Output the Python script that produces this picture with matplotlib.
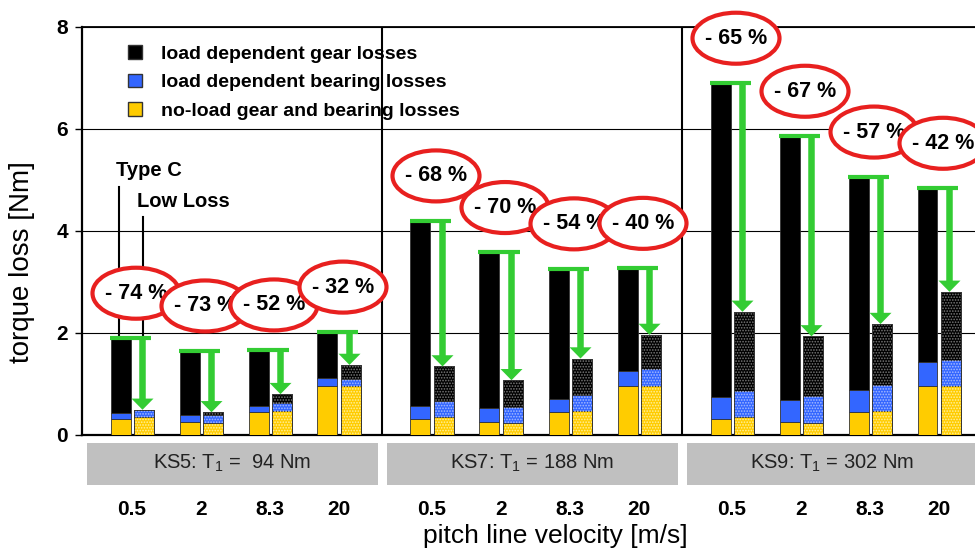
import numpy as np
import matplotlib.pyplot as plt
import matplotlib.transforms as mtransforms
from matplotlib.patches import Ellipse, Rectangle, FancyArrow, Patch

plt.rcParams['font.family'] = ['Liberation Sans', 'DejaVu Sans']
plt.rcParams['mathtext.fontset'] = 'custom'
plt.rcParams['mathtext.rm'] = 'Liberation Sans'
plt.rcParams['hatch.linewidth'] = 0.8

# test rigs (pinion torque) and pitch line velocities
groups = [r'KS5: T$_\mathregular{1}$ =  94 Nm',
          r'KS7: T$_\mathregular{1}$ = 188 Nm',
          r'KS9: T$_\mathregular{1}$ = 302 Nm']
speeds = ['0.5', '2', '8.3', '20']

# reference gears (Type C), torque loss parts in Nm
noload_ref = [0.32, 0.255, 0.45, 0.97,
              0.32, 0.255, 0.45, 0.97,
              0.32, 0.255, 0.45, 0.97]
bearing_ref = [0.105, 0.13, 0.12, 0.15,
               0.25, 0.275, 0.26, 0.28,
               0.43, 0.435, 0.43, 0.47]
gear_ref = [1.475, 1.265, 1.10, 0.90,
            3.63, 3.05, 2.55, 2.02,
            6.15, 5.17, 4.18, 3.40]

# low loss gears
noload_low = [0.35, 0.24, 0.48, 0.96,
              0.35, 0.23, 0.48, 0.96,
              0.35, 0.23, 0.48, 0.96]
bearing_low = [0.14, 0.145, 0.14, 0.13,
               0.32, 0.325, 0.30, 0.33,
               0.52, 0.53, 0.51, 0.51]

# total loss reduction in %
reduction = [74, 73, 52, 32,
             68, 70, 54, 40,
             65, 67, 57, 42]

noload_ref = np.array(noload_ref)
bearing_ref = np.array(bearing_ref)
gear_ref = np.array(gear_ref)
noload_low = np.array(noload_low)
bearing_low = np.array(bearing_low)
total_ref = noload_ref + bearing_ref + gear_ref
total_low = total_ref * (1 - np.array(reduction) / 100)
gear_low = np.clip(total_low - noload_low - bearing_low, 0, None)

c_yellow = '#ffcc00'
c_blue = '#3366ff'
c_black = '#000000'
c_green = '#33cc33'
c_red = '#e8201f'

fig = plt.figure(figsize=(9.75, 5.55), dpi=100)
ax = fig.add_axes([82/975, 120/555, 1 - 82/975, 408/555])

offsets = [0.5, 1.19, 1.88, 2.57]
xc = np.array([g * 3 + o for g in range(3) for o in offsets])
w = 0.2
x_ref = xc - 0.115
x_low = xc + 0.115

edge = dict(edgecolor='#333333', linewidth=0.6, zorder=3)
ax.bar(x_ref, noload_ref, w, color=c_yellow, **edge)
ax.bar(x_ref, bearing_ref, w, bottom=noload_ref, color=c_blue, **edge)
ax.bar(x_ref, gear_ref, w, bottom=noload_ref + bearing_ref, color=c_black, **edge)

ax.bar(x_low, noload_low, w, color=c_yellow, **edge)
ax.bar(x_low, bearing_low, w, bottom=noload_low, color=c_blue, **edge)
ax.bar(x_low, gear_low, w, bottom=noload_low + bearing_low, color=c_black, **edge)
# stippled look of the low loss bars
ax.bar(x_low, noload_low, w, fill=False, hatch='......', edgecolor='#fff0a0', linewidth=0, zorder=4)
ax.bar(x_low, bearing_low, w, bottom=noload_low, fill=False, hatch='......',
       edgecolor='#a8bcff', linewidth=0, zorder=4)
ax.bar(x_low, gear_low, w, bottom=noload_low + bearing_low, fill=False, hatch='......',
       edgecolor='#7a7a7a', linewidth=0, zorder=4)
ax.bar(x_low, total_low, w, fill=False, edgecolor='#333333', linewidth=0.6, zorder=4)

# green arrows: reference total -> low loss total
for i in range(len(xc)):
    ax.plot([xc[i] - 0.225, xc[i] + 0.19], [total_ref[i], total_ref[i]],
            color=c_green, lw=3, solid_capstyle='butt', zorder=5)
    ax.add_patch(FancyArrow(xc[i] + 0.105, total_ref[i] + 0.03, 0,
                            total_low[i] - total_ref[i] - 0.03,
                            width=0.065, head_width=0.22, head_length=0.22,
                            length_includes_head=True, color=c_green, lw=0, zorder=5))

# red ellipses with reduction values
for i in range(len(xc)):
    cx, cy = xc[i] + 0.04, total_ref[i] + 0.88
    ax.add_patch(Ellipse((cx, cy), 0.87, 1.0, facecolor='white', edgecolor=c_red,
                         lw=3, zorder=10 + 2 * i, clip_on=False))
    ax.text(cx, cy, '- %d %%' % reduction[i], ha='center', va='center',
            fontsize=15.5, fontweight='bold', zorder=11 + 2 * i, clip_on=False)

# Type C / Low Loss markers
ax.plot([0.373, 0.373], [4.87, total_ref[0]], color='black', lw=1.5, zorder=2)
ax.plot([0.613, 0.613], [4.28, total_ref[0]], color='black', lw=1.5, zorder=2)
ax.text(0.34, 5.18, 'Type C', ha='left', va='center', fontsize=14.5, fontweight='bold')
ax.text(0.547, 4.575, 'Low Loss', ha='left', va='center', fontsize=14.5, fontweight='bold')

# group separators
for gx in [3.0, 6.0]:
    ax.axvline(gx, color='black', lw=1.5, zorder=2)

ax.set_xlim(0, 8.93)
ax.set_ylim(0, 8)
ax.set_yticks([0, 2, 4, 6, 8])
ax.set_yticklabels(['0', '2', '4', '6', '8'], fontsize=15, fontweight='bold')
ax.tick_params(axis='y', length=5, width=1, pad=5)
ax.yaxis.grid(True, color='black', lw=0.8)
ax.set_axisbelow(True)
ax.set_xticks(xc)
ax.set_xticklabels(speeds * 3, fontsize=15, fontweight='bold')
ax.tick_params(axis='x', length=0, pad=47)
for s in ['left', 'bottom']:
    ax.spines[s].set_linewidth(1.6)
ax.spines['top'].set_linewidth(1.3)
ax.spines['right'].set_visible(False)

# grey bands with the rig names
trans = mtransforms.blended_transform_factory(ax.transData, ax.transAxes)
for g, name in enumerate(groups):
    ax.add_patch(Rectangle((g * 3 + 0.05, -0.1225), 2.91, 0.1035, transform=trans,
                           facecolor='#c0c0c0', edgecolor='none', clip_on=False))
    ax.text(g * 3 + 1.5, -0.069, name, transform=trans, ha='center', va='center',
            fontsize=14.5, color='#222222')

handles = [Patch(facecolor=c_black, edgecolor='#333333'),
           Patch(facecolor=c_blue, edgecolor='#333333'),
           Patch(facecolor=c_yellow, edgecolor='#333333')]
labels = ['load dependent gear losses', 'load dependent bearing losses',
          'no-load gear and bearing losses']
ax.legend(handles, labels, loc='upper left', bbox_to_anchor=(0.052, 0.955),
          frameon=False, handlelength=0.7, handleheight=0.7,
          handletextpad=0.95, labelspacing=0.55, borderpad=0, borderaxespad=0,
          prop={'weight': 'bold', 'size': 14})

fig.text(22/975, 293/555, 'torque loss [Nm]', rotation=90, ha='center', va='center', fontsize=20)
fig.text(555/975, 19/555, 'pitch line velocity [m/s]', ha='center', va='center', fontsize=19)

fig.savefig('out.png', dpi=100)
